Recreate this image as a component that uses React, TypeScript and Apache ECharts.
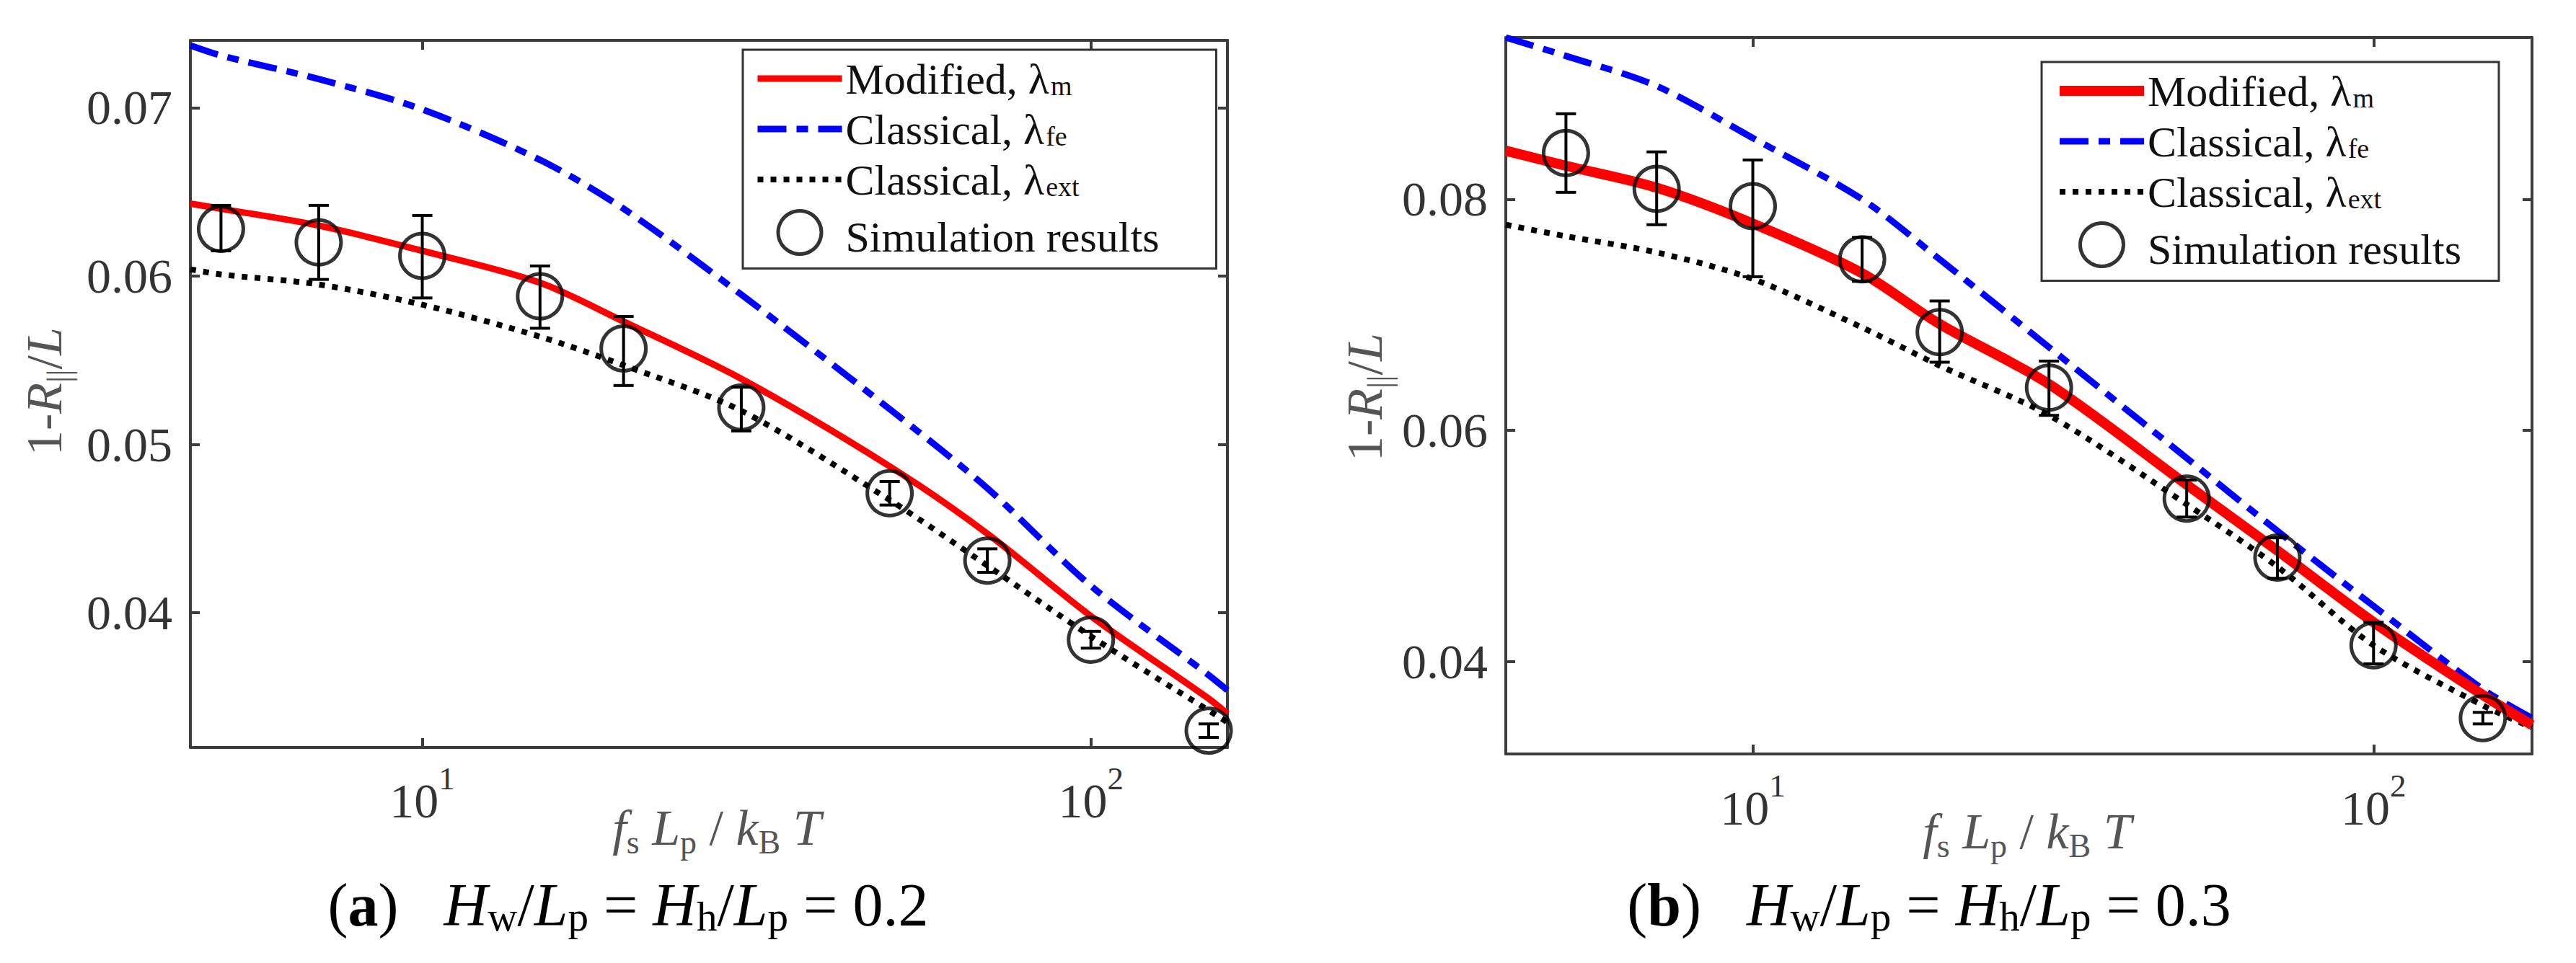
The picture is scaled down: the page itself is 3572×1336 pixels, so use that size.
import React, { useEffect, useRef } from "react";
import * as echarts from "echarts";

const SERIF = '"Liberation Serif", "Times New Roman", serif';

// ---------- shared ----------
const simulationX = [5, 7, 10, 15, 20, 30, 50, 70, 100, 150];

// ---------- panel (a) ----------
const curveXA = [4.5, 5, 7, 10, 15, 20, 30, 50, 70, 100, 150, 160];
const modifiedA = [0.0643, 0.064, 0.063, 0.0615, 0.0596, 0.0573, 0.0539, 0.0487, 0.0447, 0.0398, 0.0349, 0.034];
const classicalFeA = [0.0737, 0.0731, 0.0717, 0.0699, 0.0669, 0.064, 0.0589, 0.0521, 0.0474, 0.0416, 0.0363, 0.0354];
const classicalExtA = [0.0604, 0.0601, 0.0595, 0.0583, 0.0564, 0.0547, 0.052, 0.0467, 0.0428, 0.0386, 0.0342, 0.0335];
const simulationA = [0.0628, 0.062, 0.0612, 0.0588, 0.0557, 0.0522, 0.0471, 0.0431, 0.0384, 0.033];
const simLowA = [0.0615, 0.0598, 0.0587, 0.0569, 0.0535, 0.0508, 0.0464, 0.0424, 0.0379, 0.0326];
const simHighA = [0.0642, 0.0642, 0.0636, 0.0606, 0.0576, 0.0534, 0.0478, 0.0438, 0.0389, 0.0334];
const yTicksA = [0.04, 0.05, 0.06, 0.07];

// ---------- panel (b) ----------
const curveXB = [4, 5, 7, 10, 15, 20, 30, 50, 70, 100, 150, 180];
const modifiedB = [0.0842, 0.0829, 0.081, 0.0779, 0.0736, 0.0692, 0.064, 0.0553, 0.0496, 0.0434, 0.0371, 0.0345];
const classicalFeB = [0.094, 0.0924, 0.0898, 0.0853, 0.08, 0.0748, 0.0672, 0.0576, 0.0513, 0.0448, 0.0376, 0.0351];
const classicalExtB = [0.0778, 0.0768, 0.0754, 0.0731, 0.0689, 0.0656, 0.0613, 0.0536, 0.0482, 0.0414, 0.0362, 0.0343];
const simulationB = [0.084, 0.0809, 0.0794, 0.0748, 0.0685, 0.0637, 0.0541, 0.049, 0.0414, 0.0351];
const simLowB = [0.0806, 0.0778, 0.0733, 0.0729, 0.0659, 0.0613, 0.0525, 0.0472, 0.0398, 0.0346];
const simHighB = [0.0874, 0.0841, 0.0834, 0.0767, 0.0712, 0.066, 0.0557, 0.0507, 0.0434, 0.0356];
const yTicksB = [0.04, 0.06, 0.08];

const SERIES_NAMES = ["Modified, λm", "Classical, λfe", "Classical, λext", "Simulation results"];
const LEGEND_TEXT: Record<string, string> = {
  "Modified, λm": "{t|Modified, λ}{s|m}",
  "Classical, λfe": "{t|Classical, λ}{s|fe}",
  "Classical, λext": "{t|Classical, λ}{s|ext}",
  "Simulation results": "{t|Simulation results}",
};

const AXIS_COLOR = "#3c3c3c";

const legendRich = {
  t: { fontFamily: SERIF, fontSize: 60, lineHeight: 48, verticalAlign: "top", color: "#111" },
  s: { fontFamily: SERIF, fontSize: 38, verticalAlign: "top", padding: [20, 0, 0, 2], color: "#111" },
};

const tickRich = {
  b: { fontFamily: SERIF, fontSize: 68, lineHeight: 68, verticalAlign: "top", padding: [20, 0, 0, 0], color: "#333" },
  s: { fontFamily: SERIF, fontSize: 45, lineHeight: 45, verticalAlign: "top", color: "#333" },
};

const titleRich = {
  n: { fontFamily: SERIF, fontSize: 70, lineHeight: 70, verticalAlign: "top", fill: "#555" },
  i: { fontFamily: SERIF, fontStyle: "italic", fontSize: 70, lineHeight: 70, verticalAlign: "top", fill: "#555" },
  s: { fontFamily: SERIF, fontSize: 46, verticalAlign: "top", padding: [32, 0, 0, 0], fill: "#555" },
};

const captionRich = {
  n: { fontFamily: SERIF, fontSize: 84, lineHeight: 90, verticalAlign: "top", fill: "#000" },
  b: { fontFamily: SERIF, fontWeight: "bold", fontSize: 84, lineHeight: 90, verticalAlign: "top", fill: "#000" },
  i: { fontFamily: SERIF, fontStyle: "italic", fontSize: 84, lineHeight: 90, verticalAlign: "top", fill: "#000" },
  s: { fontFamily: SERIF, fontSize: 57, verticalAlign: "top", padding: [30, 0, 0, 0], fill: "#000" },
};

const X_TITLE = "{i|f}{s|s}{n| }{i|L}{s|p}{n| / }{i|k}{s|B}{n| }{i|T}";
const Y_TITLE = "{n|1-}{i|R}{s|||}{n|/}{i|L}";

function caption(letter: string, value: string) {
  return `{n|(}{b|${letter}}{n|)   }{i|H}{s|w}{n|/}{i|L}{s|p}{n| = }{i|H}{s|h}{n|/}{i|L}{s|p}{n| = ${value}}`;
}

type PanelCfg = {
  curveX: number[];
  modified: number[];
  fe: number[];
  ext: number[];
  sim: number[];
  low: number[];
  high: number[];
  yTicks: number[];
  xMin: number;
  xMax: number;
  yMin: number;
  yMax: number;
  grid: { left: number; top: number; width: number; height: number };
  legend: { left: number; top: number; padding: number[] };
  redWidth: number;
  labelMargin: number;
  xTitle: [number, number];
  yTitle: [number, number];
  captionText: string;
  captionPos: [number, number];
};

function buildOption(c: PanelCfg) {
  const lineAxis = { show: true, lineStyle: { color: AXIS_COLOR, width: 4 } };
  const tick = { show: true, inside: true, length: 13, lineStyle: { color: AXIS_COLOR, width: 4 } };
  const logLabel = (v: number) => {
    const e = Math.log10(v);
    if (Math.abs(e - Math.round(e)) > 1e-6) return "";
    return `{b|10}{s|${Math.round(e)}}`;
  };
  return {
    animation: false,
    backgroundColor: "#fff",
    grid: { ...c.grid, containLabel: false },
    legend: {
      orient: "vertical",
      left: c.legend.left,
      top: c.legend.top,
      itemWidth: 117,
      itemHeight: 60,
      itemGap: 10,
      padding: c.legend.padding,
      borderColor: "#333",
      borderWidth: 3,
      borderRadius: 0,
      backgroundColor: "#fff",
      selectedMode: false,
      formatter: (name: string) => LEGEND_TEXT[name] || name,
      textStyle: { fontFamily: SERIF, fontSize: 60, color: "#111", rich: legendRich },
      data: [
        { name: SERIES_NAMES[0], itemStyle: { opacity: 0 }, lineStyle: { width: c.redWidth } },
        { name: SERIES_NAMES[1], itemStyle: { opacity: 0 }, lineStyle: { width: 9 } },
        { name: SERIES_NAMES[2], itemStyle: { opacity: 0 }, lineStyle: { width: 8 } },
        { name: SERIES_NAMES[3], icon: "circle", itemStyle: { color: "#fff", borderColor: "#000", borderWidth: 5 } },
      ],
    },
    xAxis: [
      {
        type: "log",
        logBase: 10,
        min: c.xMin,
        max: c.xMax,
        position: "bottom",
        axisLine: lineAxis,
        axisTick: tick,
        splitLine: { show: false },
        minorTick: { show: false },
        axisLabel: { formatter: logLabel, rich: tickRich, margin: c.labelMargin, showMinLabel: false, showMaxLabel: false },
      },
      {
        type: "log",
        logBase: 10,
        min: c.xMin,
        max: c.xMax,
        position: "top",
        axisLine: lineAxis,
        axisTick: tick,
        splitLine: { show: false },
        axisLabel: { show: false },
      },
    ],
    yAxis: [
      {
        type: "value",
        min: c.yMin,
        max: c.yMax,
        position: "left",
        axisLine: lineAxis,
        axisTick: { ...tick, customValues: c.yTicks },
        splitLine: { show: false },
        axisLabel: {
          customValues: c.yTicks,
          formatter: (v: number) => v.toFixed(2),
          fontFamily: SERIF,
          fontSize: 68,
          color: "#333",
          margin: 25,
        },
      },
      {
        type: "value",
        min: c.yMin,
        max: c.yMax,
        position: "right",
        axisLine: lineAxis,
        axisTick: { ...tick, customValues: c.yTicks },
        splitLine: { show: false },
        axisLabel: { show: false },
      },
    ],
    series: [
      {
        name: SERIES_NAMES[0],
        type: "line",
        data: c.curveX.map((x, i) => [x, c.modified[i]]),
        symbol: "none",
        smooth: 0.3,
        lineStyle: { color: "#ff0000", width: c.redWidth },
        itemStyle: { color: "#ff0000" },
        z: 3,
      },
      {
        name: SERIES_NAMES[1],
        type: "line",
        data: c.curveX.map((x, i) => [x, c.fe[i]]),
        symbol: "none",
        smooth: 0.3,
        lineStyle: { color: "#0000ff", width: 9, type: [40, 14, 16, 14] },
        itemStyle: { color: "#0000ff" },
        z: 2,
      },
      {
        name: SERIES_NAMES[2],
        type: "line",
        data: c.curveX.map((x, i) => [x, c.ext[i]]),
        symbol: "none",
        smooth: 0.3,
        lineStyle: { color: "#000", width: 8, type: [8, 10] },
        itemStyle: { color: "#000" },
        z: 2,
      },
      {
        name: "error",
        type: "custom",
        data: simulationX.map((x, i) => [x, c.low[i], c.high[i]]),
        encode: { x: 0, y: [1, 2] },
        z: 4,
        renderItem: (_params: any, api: any) => {
          const x = api.value(0);
          const lo = api.coord([x, api.value(1)]);
          const hi = api.coord([x, api.value(2)]);
          const cap = 14;
          const style = { stroke: "#000", lineWidth: 4 };
          return {
            type: "group",
            children: [
              { type: "line", shape: { x1: lo[0], y1: lo[1], x2: hi[0], y2: hi[1] }, style },
              { type: "line", shape: { x1: lo[0] - cap, y1: lo[1], x2: lo[0] + cap, y2: lo[1] }, style },
              { type: "line", shape: { x1: hi[0] - cap, y1: hi[1], x2: hi[0] + cap, y2: hi[1] }, style },
            ],
          };
        },
      },
      {
        name: SERIES_NAMES[3],
        type: "scatter",
        data: simulationX.map((x, i) => [x, c.sim[i]]),
        symbol: "circle",
        symbolSize: 62,
        itemStyle: { color: "rgba(0,0,0,0)", borderColor: "#000", borderWidth: 5 },
        z: 5,
      },
    ],
    graphic: [
      {
        type: "text",
        x: c.xTitle[0],
        y: c.xTitle[1],
        style: { text: X_TITLE, rich: titleRich, align: "center", verticalAlign: "middle", fill: "#555" },
      },
      {
        type: "text",
        x: c.yTitle[0],
        y: c.yTitle[1],
        rotation: Math.PI / 2,
        style: { text: Y_TITLE, rich: titleRich, align: "center", verticalAlign: "middle", fill: "#555" },
      },
      {
        type: "text",
        x: c.captionPos[0],
        y: c.captionPos[1],
        style: { text: c.captionText, rich: captionRich, align: "center", verticalAlign: "middle", fill: "#000" },
      },
    ],
  };
}

const panelA: PanelCfg = {
  curveX: curveXA,
  modified: modifiedA,
  fe: classicalFeA,
  ext: classicalExtA,
  sim: simulationA,
  low: simLowA,
  high: simHighA,
  yTicks: yTicksA,
  xMin: 4.5,
  xMax: 160,
  yMin: 0.032,
  yMax: 0.074,
  grid: { left: 264, top: 56, width: 1438, height: 981 },
  legend: { left: 1030, top: 69, padding: [11, 79, 14, 16] },
  redWidth: 9,
  labelMargin: 20,
  xTitle: [994, 1152],
  yTitle: [65, 543],
  captionText: caption("a", "0.2"),
  captionPos: [871, 1258],
};

const panelB: PanelCfg = {
  curveX: curveXB,
  modified: modifiedB,
  fe: classicalFeB,
  ext: classicalExtB,
  sim: simulationB,
  low: simLowB,
  high: simHighB,
  yTicks: yTicksB,
  xMin: 4,
  xMax: 180,
  yMin: 0.032,
  yMax: 0.094,
  grid: { left: 302, top: 52, width: 1423, height: 994 },
  legend: { left: 1045, top: 86, padding: [11, 52, 14, 18] },
  redWidth: 14,
  labelMargin: 21,
  xTitle: [1025, 1157],
  yTitle: [110, 551],
  captionText: caption("b", "0.3"),
  captionPos: [889, 1258],
};

function Panel({ cfg, left }: { cfg: PanelCfg; left: number }) {
  const ref = useRef<HTMLDivElement>(null);
  useEffect(() => {
    if (!ref.current) return;
    const chart = echarts.init(ref.current, null, { renderer: "svg" });
    chart.setOption(buildOption(cfg) as any);
    return () => chart.dispose();
  }, [cfg]);
  return <div ref={ref} style={{ position: "absolute", left, top: 0, width: 1786, height: 1336 }} />;
}

export default function App() {
  return (
    <div style={{ position: "absolute", left: 0, top: 0, width: 3572, height: 1336, background: "#fff", overflow: "hidden" }}>
      <Panel cfg={panelA} left={0} />
      <Panel cfg={panelB} left={1786} />
    </div>
  );
}
